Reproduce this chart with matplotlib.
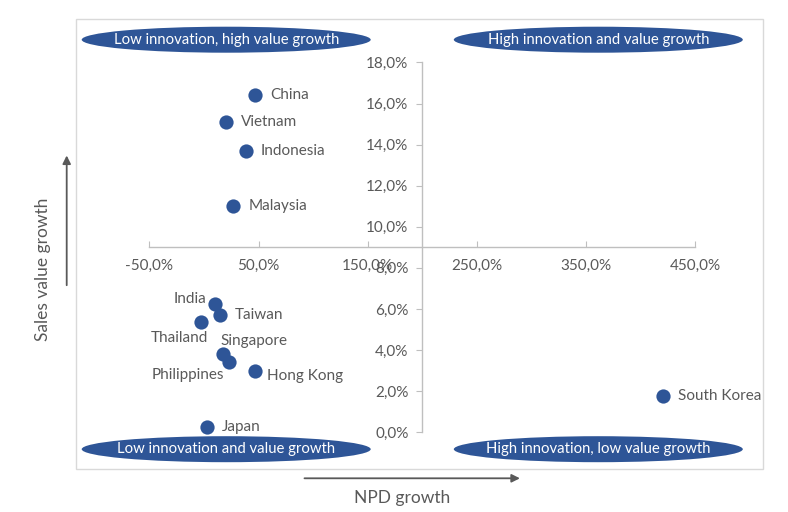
import matplotlib.pyplot as plt
from matplotlib.patches import Ellipse, Rectangle
from matplotlib.ticker import FuncFormatter

plt.rcParams['font.family'] = ['Lato', 'DejaVu Sans']

# data (NPD growth %, sales value growth %)
countries = ['China', 'Vietnam', 'Indonesia', 'Malaysia', 'India', 'Taiwan', 'Thailand',
             'Singapore', 'Philippines', 'Hong Kong', 'Japan', 'South Korea']
npd_growth = [46.8, 20.0, 38.3, 27.0, 10.2, 14.8, -2.6, 17.8, 23.4, 46.8, 2.6, 420.8]
value_growth = [16.41, 15.11, 13.69, 11.03, 6.24, 5.71, 5.38, 3.81, 3.44, 3.00, 0.27, 1.77]
x_ticks = [-50, 50, 150, 250, 350, 450]
y_ticks = [0, 2, 4, 6, 8, 10, 12, 14, 16, 18]
quadrants = ['Low innovation, high value growth', 'High innovation and value growth',
             'Low innovation and value growth', 'High innovation, low value growth']

# label placement (offset in pixels, alignment)
label_pos = {
    'India': (-9, 5, 'right'),
    'Thailand': (7, -16, 'right'),
    'Singapore': (-3, 13, 'left'),
    'Philippines': (-5, -13, 'right'),
    'Hong Kong': (12, -5, 'left'),
}

blue = '#2E5597'
grey = '#595959'
W, H = 788, 512

fig = plt.figure(figsize=(W / 100, H / 100), dpi=100)
ax = fig.add_axes([75.7 / W, 1 - 469 / H, (762.7 - 75.7) / W, (469 - 19.3) / H])
ax.set_xlim(-117.4, 511.7)
ax.set_ylim(-1.79, 20.10)

ax.scatter(npd_growth, value_growth, s=105, color=blue, zorder=3, linewidths=0)
for name, x, y in zip(countries, npd_growth, value_growth):
    dx, dy, ha = label_pos.get(name, (15, 0, 'left'))
    ax.annotate(name, (x, y), xytext=(dx, dy), textcoords='offset pixels',
                ha=ha, va='center', fontsize=11, color=grey)

# axes crossing in the middle
for s in ['top', 'right']:
    ax.spines[s].set_visible(False)
ax.spines['left'].set_position(('data', 200))
ax.spines['bottom'].set_position(('data', 9))
ax.spines['left'].set_bounds(0, 18)
ax.spines['bottom'].set_bounds(-50, 450)
for s in ['left', 'bottom']:
    ax.spines[s].set_color('#BFBFBF')
    ax.spines[s].set_linewidth(1)

ax.set_xticks(x_ticks)
ax.set_yticks(y_ticks)
ax.xaxis.set_major_formatter(FuncFormatter(lambda v, p: f'{v:.1f}%'.replace('.', ',')))
ax.yaxis.set_major_formatter(FuncFormatter(lambda v, p: f'{v:.1f}%'.replace('.', ',')))
ax.tick_params(axis='x', direction='in', length=4, color='#BFBFBF', pad=8, labelsize=11, labelcolor=grey)
ax.tick_params(axis='y', direction='out', length=4, color='#BFBFBF', pad=6, labelsize=11, labelcolor=grey)
ax.patch.set_visible(False)

# light frame around plot area
ax.add_patch(Rectangle((0, 0), 1, 1, transform=ax.transAxes, fill=False,
                       edgecolor='#D9D9D9', linewidth=1, clip_on=False))

# quadrant ellipses
centers = [(226.2, 39.7), (598.3, 39.7), (226.2, 449.2), (598.3, 449.2)]
for (cx, cy), txt in zip(centers, quadrants):
    fx, fy = cx / W, 1 - cy / H
    fig.patches.append(Ellipse((fx, fy), 289 / W, 26 / H, transform=fig.transFigure,
                               facecolor=blue, edgecolor='none', zorder=5))
    fig.text(fx, fy, txt, ha='center', va='center', color='white', fontsize=10.7, zorder=6)

# axis arrows and titles
ax.annotate('', xy=(66.7, H - 152.7), xytext=(66.7, H - 288), xycoords='figure pixels',
            arrowprops=dict(arrowstyle='-|>', color=grey, lw=1.3, mutation_scale=12))
ax.annotate('', xy=(522.7, H - 478.3), xytext=(301.7, H - 478.3), xycoords='figure pixels',
            arrowprops=dict(arrowstyle='-|>', color=grey, lw=1.3, mutation_scale=12))
fig.text(43 / W, 1 - 269 / H, 'Sales value growth', rotation=90, ha='center', va='center',
         fontsize=12.5, color=grey)
fig.text(401.7 / W, 1 - 498 / H, 'NPD growth', ha='center', va='center', fontsize=12.5, color=grey)

fig.savefig('out.png', dpi=100)
